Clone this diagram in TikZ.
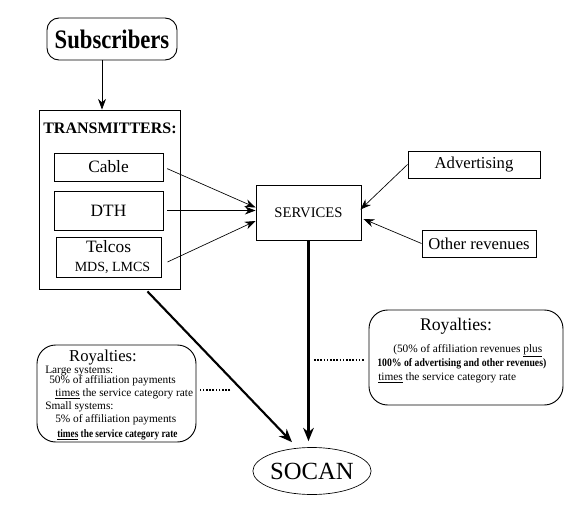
\documentclass[tikz,border=0pt]{standalone}
\usepackage{fontspec}
\setmainfont{Liberation Serif}
\newfontfamily\tnr{Liberation Serif}
\usetikzlibrary{arrows.meta,calc,shapes.geometric}

\newcommand{\fsz}[1]{\tnr\fontsize{#1}{#1}\selectfont}

\tikzset{
  box/.style={draw,line width=0.7pt,inner sep=0pt},
  thinarrow/.style={-{Stealth[length=8pt,width=6pt]},line width=0.5pt},
  heavyarrow/.style={-{Stealth[length=10pt,width=8pt]},line width=1.6pt},
  dotline/.style={line width=1.6pt,dash pattern=on 1.2pt off 1.2pt},
  small/.style={font=\fsz{8.5},inner sep=0pt,anchor=west},
}

\begin{document}
\begin{tikzpicture}[x=0.75pt,y=-0.75pt]
  \useasboundingbox (0,0) rectangle (579,518);
  % Subscribers on top
  \node[box,rounded corners=9pt,minimum width=97.5pt,minimum height=31.5pt,
        font=\fsz{20}\bfseries] (subs) at (112,39) {\scalebox{0.85}[1]{Subscribers}};
  % Transmitters with the three kinds inside
  \node[box,minimum width=105.75pt,minimum height=134.25pt] (trans) at (109.5,199.5) {};
  \node[font=\fsz{12}\bfseries] (transtitle) at (110,128) {TRANSMITTERS:};
  \node[box,minimum width=81.75pt,minimum height=21pt,font=\fsz{13}] (cable) at (108.5,167) {Cable};
  \node[box,minimum width=81.75pt,minimum height=29.25pt,font=\fsz{13}] (dth) at (108.5,210.5) {DTH};
  \node[box,minimum width=78.75pt,minimum height=30pt,align=center,font=\fsz{13}] (telcos) at (108.5,257)
    {Telcos\\[1pt]\hspace*{6pt}{\fsz{10.5}MDS, LMCS}};
  % Services and the other revenue sources
  \node[box,minimum width=78.75pt,minimum height=41.25pt,font=\fsz{11}] (services) at (308.5,212.5) {SERVICES};
  \node[box,minimum width=99pt,minimum height=20.25pt,font=\fsz{12.5}] (advert) at (474,164.5) {Advertising};
  \node[box,minimum width=85.5pt,minimum height=20.25pt,font=\fsz{12.5}] (other) at (479,243.5) {Other revenues};
  % SOCAN
  \node[draw,ellipse,line width=0.5pt,minimum width=82.5pt,minimum height=35.25pt,inner sep=0pt,
        font=\fsz{18.5}] (socan) at (312,471) {SOCAN};
  % Royalty boxes
  \node[box,rounded corners=14pt,minimum width=145.5pt,minimum height=71.25pt] (rroy) at (466,357.5) {};
  \node[box,rounded corners=14pt,minimum width=119.25pt,minimum height=72.75pt] (lroy) at (116.5,393.5) {};

  % Right royalty text
  \node[font=\fsz{13.3},inner sep=0pt] (rtitle) at (456,326) {Royalties:};
  \node[small] (rl1) at (393,351) {(50\% of affiliation revenues \underline{plus}};
  \node[small,font=\fsz{8.5}\bfseries] (rl2) at (377,364) {\scalebox{0.86}[1]{100\% of advertising and other revenues)}};
  \node[small] (rl3) at (378,378) {\underline{times} the service category rate};
  % Left royalty text
  \node[font=\fsz{12.5},inner sep=0pt] (ltitle) at (103,358) {Royalties:};
  \node[small] (ll1) at (45,371) {Large systems:};
  \node[small] (ll2) at (49,381) {50\% of affiliation payments};
  \node[small] (ll3) at (55,394) {\underline{times} the service category rate};
  \node[small] (ll4) at (45,407) {Small systems:};
  \node[small] (ll5) at (55,420) {5\% of affiliation payments};
  \node[small,font=\fsz{8.5}\bfseries] (ll6) at (57,435) {\scalebox{0.82}[1]{\underline{times} the service category rate}};

  % Arrows
  \draw[thinarrow] ($(subs.south)+(-10,0)$) -- ($(trans.north)+(-7.5,0)$);
  \draw[thinarrow,shorten <=3pt] (cable.east) -- ($(services.west)+(0,-5)$);
  \draw[thinarrow,shorten <=3pt] (dth.east) -- (dth.east -| services.west);
  \draw[thinarrow] ($(telcos.east)+(6,5)$) -- ($(services.west)+(0,8.5)$);
  \draw[thinarrow] (advert.west) -- ($(services.east)+(-1,-3)$);
  \draw[thinarrow] (other.west) -- ($(services.east)+(2,6.5)$);
  \draw[heavyarrow,line width=2.4pt] (services.south) -- ($(services.south |- socan.north)+(0,-6)$);
  \draw[heavyarrow] ($(trans.south)+(38,2)$) -- ($(socan.north)+(-20,-5)$);
  % Dotted links to the royalty boxes
  \coordinate (rdot) at (314,360);
  \draw[dotline,shorten >=3pt] (rdot) -- (rdot -| rroy.west);
  \coordinate (ldot) at (230,390);
  \draw[dotline,shorten >=3pt] (ldot) -- (ldot -| lroy.east);
\end{tikzpicture}
\end{document}
